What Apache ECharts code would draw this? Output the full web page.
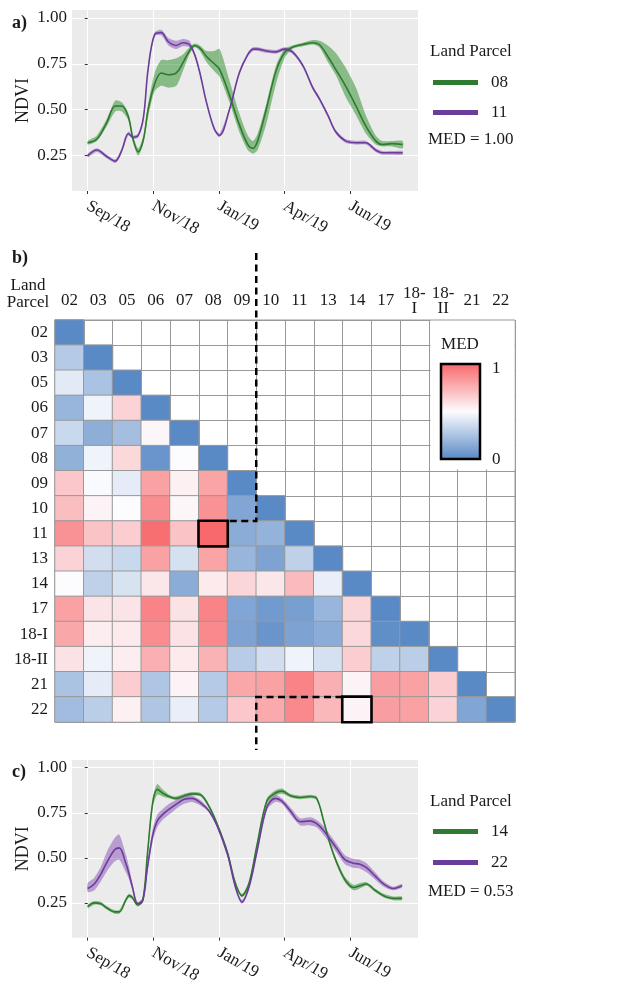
<!DOCTYPE html>
<html><head><meta charset="utf-8">
<script src="https://cdn.jsdelivr.net/npm/echarts@6/dist/echarts.min.js"></script>
<style>html,body{margin:0;padding:0;background:#fff}#c{width:627px;height:986px}</style>
</head><body><div id="c"></div><script>
const FONT = '"Liberation Serif", "Times New Roman", serif';

// ---- shared axis ticks ----
const xTickPos = [0, 1, 2, 3, 4];
const xTickLabels = ['Sep/18', 'Nov/18', 'Jan/19', 'Apr/19', 'Jun/19'];
const yTicks = [0.25, 0.5, 0.75, 1.0];

// ---- panel a: parcels 08 and 11 ----
const aX = [0,0.14,0.29,0.42,0.52,0.62,0.69,0.77,0.85,0.92,1.02,1.12,1.23,1.35,1.45,1.55,1.63,1.71,1.81,1.93,2.01,2.16,2.31,2.44,2.52,2.59,2.72,2.87,3.00,3.12,3.28,3.43,3.53,3.66,3.78,3.93,4.09,4.24,4.39,4.49,4.64,4.80];
const a08 =   [0.32,0.34,0.43,0.52,0.52,0.46,0.34,0.27,0.34,0.50,0.64,0.70,0.69,0.70,0.755,0.82,0.85,0.835,0.79,0.75,0.72,0.58,0.42,0.31,0.29,0.33,0.50,0.71,0.81,0.84,0.855,0.865,0.855,0.79,0.72,0.63,0.52,0.41,0.33,0.31,0.315,0.31];
const a08Lo = [0.31,0.33,0.41,0.49,0.49,0.44,0.32,0.25,0.32,0.46,0.60,0.63,0.62,0.63,0.71,0.80,0.84,0.82,0.76,0.71,0.68,0.54,0.38,0.28,0.26,0.28,0.42,0.64,0.78,0.83,0.845,0.855,0.84,0.76,0.69,0.57,0.47,0.37,0.31,0.30,0.30,0.29];
const a08Hi = [0.33,0.36,0.45,0.55,0.54,0.48,0.36,0.29,0.36,0.53,0.70,0.77,0.77,0.78,0.80,0.84,0.86,0.85,0.82,0.82,0.83,0.66,0.48,0.36,0.33,0.37,0.53,0.74,0.83,0.85,0.865,0.88,0.875,0.85,0.81,0.73,0.62,0.47,0.36,0.33,0.33,0.33];
const a11 =   [0.25,0.28,0.245,0.22,0.28,0.37,0.35,0.36,0.46,0.72,0.91,0.92,0.87,0.85,0.865,0.855,0.80,0.70,0.54,0.395,0.36,0.50,0.70,0.80,0.83,0.83,0.82,0.815,0.83,0.815,0.74,0.62,0.56,0.47,0.38,0.33,0.32,0.32,0.28,0.265,0.265,0.265];
const a11Lo = [0.24,0.27,0.235,0.21,0.27,0.36,0.34,0.35,0.45,0.71,0.90,0.905,0.85,0.83,0.845,0.84,0.79,0.69,0.53,0.385,0.35,0.49,0.69,0.79,0.82,0.82,0.81,0.805,0.82,0.805,0.73,0.61,0.55,0.46,0.37,0.32,0.31,0.31,0.27,0.255,0.255,0.255];
const a11Hi = [0.26,0.29,0.255,0.23,0.29,0.38,0.36,0.37,0.47,0.73,0.92,0.935,0.89,0.875,0.885,0.875,0.81,0.71,0.55,0.405,0.37,0.51,0.71,0.81,0.84,0.84,0.83,0.825,0.84,0.825,0.75,0.63,0.57,0.48,0.39,0.34,0.33,0.33,0.29,0.275,0.275,0.275];

// ---- panel c: parcels 14 and 22 ----
const cX = [0,0.10,0.20,0.30,0.41,0.48,0.58,0.63,0.68,0.76,0.84,0.91,0.99,1.06,1.14,1.24,1.34,1.47,1.59,1.72,1.85,1.97,2.13,2.25,2.35,2.46,2.58,2.73,2.86,2.96,3.09,3.24,3.39,3.49,3.60,3.70,3.80,3.92,4.05,4.15,4.25,4.38,4.51,4.66,4.79];
const c14 =   [0.23,0.25,0.245,0.22,0.20,0.20,0.265,0.29,0.28,0.24,0.265,0.52,0.805,0.88,0.86,0.84,0.83,0.845,0.855,0.85,0.785,0.69,0.53,0.36,0.29,0.36,0.57,0.815,0.86,0.87,0.845,0.835,0.84,0.83,0.70,0.57,0.47,0.38,0.335,0.345,0.355,0.32,0.29,0.275,0.275];
const c14Lo = [0.22,0.24,0.235,0.21,0.19,0.19,0.255,0.28,0.27,0.23,0.255,0.50,0.78,0.85,0.84,0.83,0.82,0.835,0.845,0.84,0.775,0.68,0.52,0.35,0.28,0.35,0.56,0.80,0.845,0.855,0.835,0.825,0.83,0.82,0.69,0.56,0.455,0.365,0.32,0.33,0.345,0.31,0.28,0.265,0.265];
const c14Hi = [0.24,0.26,0.255,0.23,0.21,0.21,0.275,0.30,0.29,0.25,0.275,0.54,0.83,0.91,0.88,0.85,0.84,0.855,0.865,0.86,0.795,0.70,0.54,0.37,0.30,0.37,0.58,0.83,0.875,0.885,0.855,0.845,0.85,0.84,0.71,0.58,0.485,0.395,0.35,0.36,0.365,0.33,0.30,0.285,0.285];
const c22 =   [0.33,0.355,0.41,0.48,0.545,0.555,0.47,0.41,0.34,0.245,0.265,0.445,0.625,0.705,0.74,0.77,0.795,0.825,0.83,0.805,0.76,0.68,0.52,0.34,0.255,0.34,0.535,0.78,0.83,0.815,0.76,0.70,0.705,0.69,0.65,0.60,0.55,0.49,0.47,0.465,0.445,0.40,0.355,0.33,0.345];
const c22Lo = [0.31,0.32,0.37,0.43,0.48,0.49,0.42,0.38,0.32,0.235,0.25,0.42,0.59,0.67,0.71,0.74,0.77,0.80,0.81,0.79,0.75,0.67,0.51,0.33,0.245,0.33,0.52,0.765,0.81,0.80,0.74,0.68,0.68,0.67,0.625,0.575,0.525,0.465,0.445,0.44,0.42,0.38,0.34,0.32,0.335];
const c22Hi = [0.36,0.39,0.45,0.54,0.61,0.63,0.52,0.45,0.36,0.255,0.28,0.47,0.66,0.74,0.77,0.80,0.82,0.845,0.845,0.82,0.77,0.69,0.53,0.35,0.265,0.35,0.55,0.795,0.85,0.83,0.78,0.72,0.725,0.71,0.675,0.625,0.575,0.515,0.495,0.49,0.47,0.42,0.37,0.34,0.355];

// ---- panel b: MED matrix (lower triangle, row by row) ----
const parcels = ['02','03','05','06','07','08','09','10','11','13','14','17','18-I','18-II','21','22'];
const medRows = [
  [0],
  [0.28,0],
  [0.42,0.25,0],
  [0.19,0.46,0.64,0],
  [0.34,0.16,0.23,0.52,0],
  [0.17,0.46,0.62,0.05,0.50,0],
  [0.68,0.49,0.43,0.81,0.54,0.80,0],
  [0.71,0.53,0.50,0.88,0.52,0.86,0.12,0],
  [0.86,0.69,0.66,0.98,0.69,1.00,0.15,0.18,0],
  [0.64,0.37,0.34,0.81,0.38,0.80,0.19,0.11,0.31,0],
  [0.50,0.31,0.39,0.57,0.15,0.56,0.63,0.57,0.72,0.44,0],
  [0.81,0.58,0.58,0.91,0.59,0.91,0.12,0.07,0.09,0.19,0.63,0],
  [0.79,0.55,0.56,0.88,0.59,0.89,0.11,0.05,0.11,0.15,0.62,0.02,0],
  [0.59,0.46,0.55,0.76,0.56,0.75,0.29,0.37,0.46,0.38,0.66,0.31,0.30,0],
  [0.25,0.43,0.66,0.26,0.53,0.28,0.79,0.81,0.91,0.76,0.53,0.82,0.81,0.66,0],
  [0.22,0.30,0.54,0.26,0.44,0.28,0.68,0.78,0.89,0.73,0.53,0.82,0.81,0.64,0.12,0]
];
const highlighted = [['08','11'], ['14','22']];

const GREEN = '#2E7A2E', PURPLE = '#6A3D9A';
const GREEN_BAND = 'rgba(40,140,40,0.5)', PURPLE_BAND = 'rgba(125,60,175,0.45)';

function pairs(xs, ys) { return xs.map((x, k) => [x, ys[k]]); }
function bandSeries(xs, lo, hi, color, ai) {
  return {
    type: 'custom', xAxisIndex: ai, yAxisIndex: ai, silent: true, z: 1,
    data: [[xs[0], lo[0]]],
    renderItem: function (params, api) {
      const pts = [];
      for (let k = 0; k < xs.length; k++) pts.push(api.coord([xs[k], hi[k]]));
      for (let k = xs.length - 1; k >= 0; k--) pts.push(api.coord([xs[k], lo[k]]));
      return { type: 'polygon', shape: { points: pts, smooth: 0.25 }, style: { fill: color } };
    }
  };
}
function lineSeries(name, xs, ys, color, ai) {
  return { type: 'line', name: name, xAxisIndex: ai, yAxisIndex: ai, data: pairs(xs, ys),
    showSymbol: false, smooth: 0.35, z: 3, silent: true,
    lineStyle: { color: color, width: 1.6 }, itemStyle: { color: color } };
}
function lineXAxis(gi) {
  return { type: 'value', gridIndex: gi, min: -0.24, max: 5.035,
    axisLine: { show: false },
    axisTick: { show: true, customValues: xTickPos, length: 3, lineStyle: { color: '#333' } },
    axisLabel: { customValues: xTickPos, formatter: v => xTickLabels[xTickPos.indexOf(v)] || '',
      rotate: -30, margin: 14, fontSize: 17, fontFamily: FONT, color: '#1a1a1a' },
    splitLine: { show: true, lineStyle: { color: '#ffffff', width: 1.1 } } };
}
function lineYAxis(gi) {
  return { type: 'value', gridIndex: gi, min: 0.057, max: 1.043,
    axisLine: { show: false },
    axisTick: { show: true, customValues: yTicks, length: 3, lineStyle: { color: '#333' } },
    axisLabel: { customValues: yTicks, formatter: v => v.toFixed(2), margin: 5,
      fontSize: 17, fontFamily: FONT, color: '#1a1a1a' },
    splitLine: { show: true, lineStyle: { color: '#ffffff', width: 1.1 } },
    name: 'NDVI', nameLocation: 'middle', nameGap: 40, nameRotate: 90, nameMoveOverlap: false,
    nameTextStyle: { fontSize: 18, fontFamily: FONT, color: '#1a1a1a' } };
}

// heatmap data
const heatData = [];
const hiData = [];
medRows.forEach((row, i) => row.forEach((v, j) => {
  const isHi = highlighted.some(h => h[0] === parcels[j] && h[1] === parcels[i]);
  if (isHi) hiData.push({ value: [j, i, v], itemStyle: { borderColor: '#000', borderWidth: 2.6 } });
  else heatData.push([j, i, v]);
}));

const chart = echarts.init(document.getElementById('c'), null, { renderer: 'canvas', width: 627, height: 986 });

const txt = (id, text, x, y, opts) => Object.assign({ id: id, type: 'text', x: x, y: y, z: 30,
  style: Object.assign({ text: text, font: '17px ' + FONT, fill: '#1a1a1a', align: 'left', verticalAlign: 'middle' }, (opts || {})) });

const option = {
  animation: false,
  backgroundColor: '#ffffff',
  grid: [
    { left: 72, top: 10, width: 346, height: 181, show: true, backgroundColor: '#EBEBEB', borderWidth: 0 },
    { left: 55, top: 320, width: 460, height: 402, show: true, backgroundColor: '#ffffff', borderColor: '#999', borderWidth: 1 },
    { left: 72, top: 760, width: 346, height: 182, show: true, backgroundColor: '#EBEBEB', borderWidth: 0 }
  ],
  xAxis: [
    lineXAxis(0),
    { type: 'category', gridIndex: 1, data: parcels, position: 'top',
      axisLine: { show: false }, axisTick: { show: false },
      axisLabel: { interval: 0, formatter: v => v.replace('-', '-\n'), margin: 19, verticalAlign: 'middle',
        lineHeight: 15, fontSize: 17, fontFamily: FONT, color: '#1a1a1a' },
      splitLine: { show: true, interval: 0, lineStyle: { color: '#999', width: 1 } } },
    lineXAxis(2)
  ],
  yAxis: [
    lineYAxis(0),
    { type: 'category', gridIndex: 1, data: parcels, inverse: true,
      axisLine: { show: false }, axisTick: { show: false },
      axisLabel: { interval: 0, margin: 7, fontSize: 17, fontFamily: FONT, color: '#1a1a1a' },
      splitLine: { show: true, interval: 0, lineStyle: { color: '#999', width: 1 } } },
    lineYAxis(2)
  ],
  visualMap: {
    type: 'continuous', seriesIndex: 4, min: 0, max: 1, calculable: false,
    orient: 'vertical', left: 441, top: 364, itemWidth: 39, itemHeight: 95, padding: 0,
    text: null, showLabel: false, hoverLink: false, z: 10,
    inRange: { color: ['#5A8AC6', '#FCFCFF', '#F8696B'] }
  },
  legend: [
    { data: ['08', '11'], orient: 'vertical', left: 428, top: 69, icon: 'rect', itemWidth: 45, itemHeight: 5,
      itemGap: 13, selectedMode: false, textStyle: { fontSize: 17, fontFamily: FONT, color: '#1a1a1a', padding: [0, 0, 0, 8] } },
    { data: ['14', '22'], orient: 'vertical', left: 428, top: 818, icon: 'rect', itemWidth: 45, itemHeight: 5,
      itemGap: 14, selectedMode: false, textStyle: { fontSize: 17, fontFamily: FONT, color: '#1a1a1a', padding: [0, 0, 0, 8] } }
  ],
  series: [
    bandSeries(aX, a08Lo, a08Hi, GREEN_BAND, 0),
    bandSeries(aX, a11Lo, a11Hi, PURPLE_BAND, 0),
    lineSeries('08', aX, a08, GREEN, 0),
    lineSeries('11', aX, a11, PURPLE, 0),
    { type: 'heatmap', xAxisIndex: 1, yAxisIndex: 1, data: heatData.concat(hiData), silent: true,
      itemStyle: { borderColor: '#999', borderWidth: 1 }, emphasis: { disabled: true } },
    bandSeries(cX, c14Lo, c14Hi, GREEN_BAND, 2),
    bandSeries(cX, c22Lo, c22Hi, PURPLE_BAND, 2),
    lineSeries('14', cX, c14, GREEN, 2),
    lineSeries('22', cX, c22, PURPLE, 2)
  ],
  graphic: [
    txt('ta', 'a)', 12, 23, { font: 'bold 18px ' + FONT }),
    txt('tb', 'b)', 12, 258, { font: 'bold 18px ' + FONT }),
    txt('tc', 'c)', 12, 772, { font: 'bold 18px ' + FONT }),
    txt('lp', 'Land\nParcel', 28, 294, { align: 'center', lineHeight: 17 }),
    txt('la', 'Land Parcel', 430, 52),
    txt('ma', 'MED = 1.00', 428, 140),
    txt('lc', 'Land Parcel', 430, 802),
    txt('mc', 'MED = 0.53', 428, 892),
    { id: 'legbg', type: 'rect', z: 5, shape: { x: 430.5, y: 320.5, width: 84, height: 149 }, style: { fill: '#ffffff' } },
    { id: 'legbox', type: 'rect', z: 20, shape: { x: 441, y: 364, width: 39, height: 95 }, style: { fill: null, stroke: '#000', lineWidth: 2.5 } },
    txt('med', 'MED', 460, 345, { align: 'center' }),
    txt('m1', '1', 492, 369),
    txt('m0', '0', 492, 460)
  ]
};
chart.setOption(option);

// dashed guide lines placed through the heatmap's own scales
const cp = (col, row) => chart.convertToPixel({ gridIndex: 1 }, [col, row]);
const mid = (a, b) => (a + b) / 2;
const half = (cp('02', '03')[1] - cp('02', '02')[1]) / 2;
const gridTop = cp('02', '02')[1] - half;
const gridBottom = cp('02', '22')[1] + half;
const xB0910 = mid(cp('09', '02')[0], cp('10', '02')[0]);
const xB0809 = mid(cp('08', '02')[0], cp('09', '02')[0]);
const xB1314 = mid(cp('13', '02')[0], cp('14', '02')[0]);
const yB1011 = mid(cp('02', '10')[1], cp('02', '11')[1]);
const yB2122 = mid(cp('02', '21')[1], cp('02', '22')[1]);
const dashStyle = { fill: null, stroke: '#000', lineWidth: 2.5, lineDash: [7, 4.5] };
chart.setOption({ graphic: [
  { id: 'dash1', type: 'polyline', z: 25, shape: { points: [[xB0910, gridTop - 67], [xB0910, yB1011], [xB0809, yB1011]] }, style: dashStyle },
  { id: 'dash2', type: 'polyline', z: 25, shape: { points: [[xB1314, yB2122], [xB0910, yB2122], [xB0910, gridBottom + 28]] }, style: dashStyle }
] });
</script></body></html>
